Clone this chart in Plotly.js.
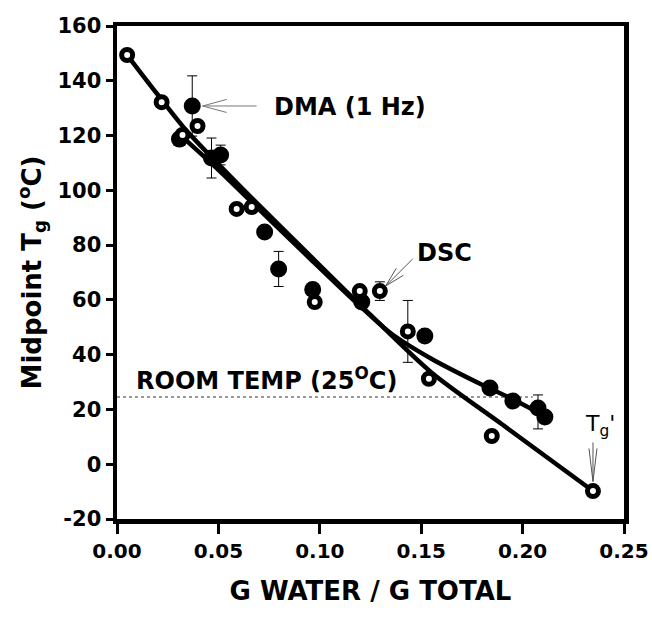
<!DOCTYPE html>
<html>
<head>
<meta charset="utf-8">
<script src="https://cdn.plot.ly/plotly-3.0.1.min.js"></script>
<style>html,body{margin:0;padding:0;background:#fff;}#chart{width:652px;height:621px;}</style>
</head>
<body>
<div id="chart"></div>
<script>
// ---- data ----
// DSC (open circles)
const dscWater = [0.005, 0.022, 0.0323, 0.0397, 0.059, 0.0664, 0.0975, 0.1197, 0.1296, 0.1434, 0.1538, 0.1848, 0.2347];
const dscTg    = [149.4, 132.2, 120.2, 123.5, 93.2, 93.9, 59.2, 63.2, 63.2, 48.5, 31.2, 10.3, -9.8];
const dscErr   = [0, 0, 0, 0, 0, 0, 0, 0, 3.4, 11.3, 0, 0, 0];
// DMA 1 Hz (filled circles)
const dmaWater = [0.0308, 0.0371, 0.0466, 0.0511, 0.0728, 0.0797, 0.0965, 0.1207, 0.1518, 0.1839, 0.1952, 0.2076, 0.211];
const dmaTg    = [118.7, 130.8, 111.8, 112.9, 84.8, 71.3, 63.8, 59.2, 46.8, 27.8, 23.1, 20.5, 17.2];
const dmaErrPlus  = [0, 11, 7.3, 3.6, 0, 6.4, 0, 0, 0, 0, 0, 4.8, 0];
const dmaErrMinus = [0, 11, 7.3, 3.6, 0, 6.4, 0, 0, 0, 0, 0, 7.6, 0];
// fitted curves
const dscFitWater = [0.005, 0.02, 0.034, 0.06, 0.095, 0.125, 0.155, 0.19, 0.2347];
const dscFitTg    = [149.4, 135, 122, 102, 76.3, 54.5, 33.5, 14.5, -9.8];
const dmaFitWater = [0.030, 0.05, 0.075, 0.095, 0.118, 0.135, 0.155, 0.18, 0.195, 0.211];
const dmaFitTg    = [121, 107.5, 89.5, 75.2, 59, 47.8, 38.5, 29, 23.8, 17.5];
// room temperature reference
const roomTemp = 24.5;
const roomTempEnd = 0.205;
const xTicks = [0, 0.05, 0.10, 0.15, 0.20, 0.25];
const xTickText = ['0.00', '0.05', '0.10', '0.15', '0.20', '0.25'];
const yTicks = [-20, 0, 20, 40, 60, 80, 100, 120, 140, 160];
const yTickText = ['-20', '0', '20', '40', '60', '80', '100', '120', '140', '160'];

const FONT = 'DejaVu Sans, Arial, sans-serif';

const traces = [
  {x: dscFitWater, y: dscFitTg, mode: 'lines', line: {color: '#000', width: 4.5, shape: 'spline', smoothing: 0.8}, hoverinfo: 'skip'},
  {x: dmaFitWater, y: dmaFitTg, mode: 'lines', line: {color: '#000', width: 4.5, shape: 'spline', smoothing: 0.8}, hoverinfo: 'skip'},
  {x: dmaWater, y: dmaTg, mode: 'markers',
   marker: {symbol: 'circle', size: 17, color: '#000', line: {width: 0}},
   error_y: {type: 'data', symmetric: false, array: dmaErrPlus, arrayminus: dmaErrMinus, color: '#000', thickness: 1, width: 5}},
  {x: dscWater, y: dscTg, mode: 'markers',
   marker: {symbol: 'circle', size: 11, color: '#fff', line: {width: 5, color: '#000'}},
   error_y: {type: 'data', array: dscErr, color: '#000', thickness: 1, width: 5}}
];

function arrow(tx, ty, deg, shaft, head, half, color) {
  const r = deg * Math.PI / 180;
  const ux = Math.cos(r), uy = Math.sin(r);
  const px = -uy, py = ux;
  const base = {type: 'line', xref: 'x', yref: 'y', xsizemode: 'pixel', ysizemode: 'pixel',
                xanchor: tx, yanchor: ty, line: {color: color, width: 1}};
  return [
    Object.assign({}, base, {x0: 0, y0: 0, x1: ux * shaft, y1: uy * shaft}),
    Object.assign({}, base, {x0: 0, y0: 0, x1: ux * head + px * half, y1: uy * head + py * half}),
    Object.assign({}, base, {x0: 0, y0: 0, x1: ux * head - px * half, y1: uy * head - py * half})
  ];
}

const shapes = [
  {type: 'line', xref: 'x', yref: 'y', x0: 0, x1: roomTempEnd, y0: roomTemp, y1: roomTemp,
   line: {color: '#777', width: 1.5, dash: 'dot'}, layer: 'below'}
].concat(
  arrow(0.0422, 130.8, 0, 54, 24, 6.5, '#777'),
  arrow(0.1325, 65.1, 45, 38, 20, 5, '#555'),
  arrow(0.2347, -6.3, 90, 39, 33, 4, '#555')
);

const annotations = [
  {x: 0.0763, y: 130.4, xref: 'x', yref: 'y', xanchor: 'left', yanchor: 'middle', showarrow: false,
   text: 'DMA (1 Hz)', font: {family: FONT, size: 24, weight: 'bold', color: '#000'}},
  {x: 0.1468, y: 77, xref: 'x', yref: 'y', xanchor: 'left', yanchor: 'middle', showarrow: false,
   text: 'DSC', font: {family: FONT, size: 24, weight: 'bold', color: '#000'}},
  {x: 0.0086, y: 31.1, xref: 'x', yref: 'y', xanchor: 'left', yanchor: 'middle', showarrow: false,
   text: 'ROOM TEMP (25<sup>O</sup>C)', font: {family: FONT, size: 24, weight: 'bold', color: '#000'}},
  {x: 0.2297, y: 14.3, xref: 'x', yref: 'y', xanchor: 'left', yanchor: 'middle', showarrow: false,
   text: 'T<sub>g</sub>\'', font: {family: FONT, size: 22, color: '#000'}}
];

const layout = {
  width: 652, height: 621,
  margin: {l: 117, r: 28, t: 26, b: 102},
  paper_bgcolor: '#fff', plot_bgcolor: '#fff',
  showlegend: false,
  xaxis: {
    range: [0, 0.25], tickvals: xTicks, ticktext: xTickText,
    ticks: 'outside', ticklen: 10, tickwidth: 3, tickcolor: '#000',
    showline: true, linewidth: 4.5, linecolor: '#000', mirror: true,
    showgrid: false, zeroline: false,
    tickfont: {family: FONT, size: 20, weight: 'bold', color: '#000'},
    title: {text: 'G WATER / G TOTAL', font: {family: FONT, size: 26, weight: 'bold', color: '#000'}, standoff: 22}
  },
  yaxis: {
    range: [-20, 160], tickvals: yTicks, ticktext: yTickText,
    ticks: 'outside', ticklen: 7, tickwidth: 3, tickcolor: '#000',
    showline: true, linewidth: 4.5, linecolor: '#000', mirror: true,
    showgrid: false, zeroline: false,
    tickfont: {family: FONT, size: 21, weight: 'bold', color: '#000'},
    title: {text: 'Midpoint T<sub>g</sub> (<sup>o</sup>C)', font: {family: FONT, size: 26, weight: 'bold', color: '#000'}, standoff: 10}
  },
  shapes: shapes,
  annotations: annotations
};

Plotly.newPlot('chart', traces, layout, {staticPlot: true, displayModeBar: false});
</script>
</body>
</html>
